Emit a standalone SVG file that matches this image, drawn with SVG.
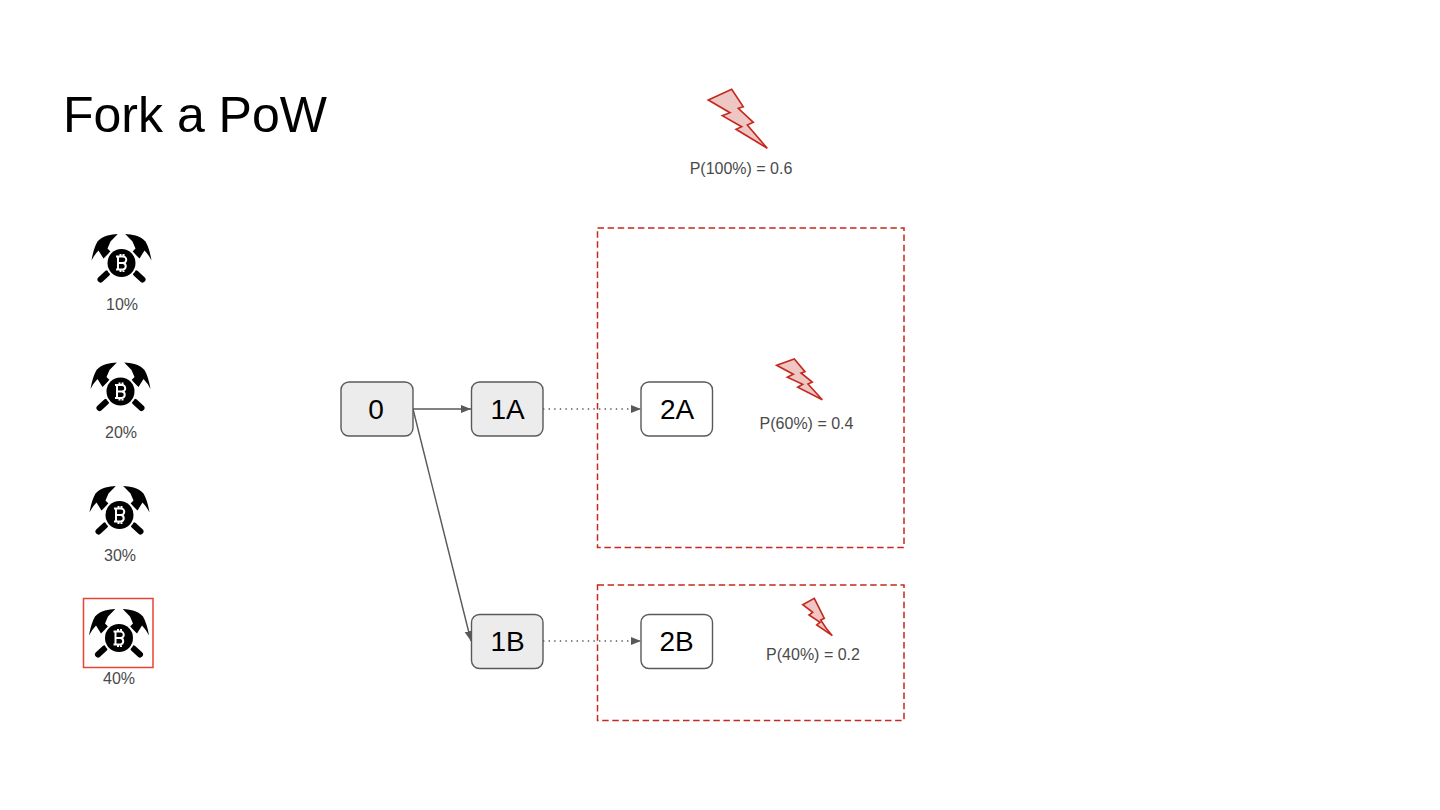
<svg xmlns="http://www.w3.org/2000/svg" width="1440" height="810" viewBox="0 0 1440 810">
<style>
text{font-family:"Liberation Sans",Arial,sans-serif}
.lbl{font-size:16px;fill:#4a4a4a;text-anchor:middle}
.ntxt{font-size:28px;fill:#000;text-anchor:middle}
.nbox{stroke:#595959;stroke-width:1.4}
.grey{fill:#ececec}
.white{fill:#fff}
.con{fill:none;stroke:#595959;stroke-width:1.4}
.dot{stroke-dasharray:1.4 4.2}
.zone{fill:none;stroke:#c5281c;stroke-width:1.5;stroke-dasharray:6.5 3.6}
.bolt{fill:#eec6c4;stroke:#c5281c;stroke-width:1.6;stroke-linejoin:miter}
</style>
<defs>
<marker id="ah" markerUnits="userSpaceOnUse" markerWidth="11" markerHeight="9" refX="10" refY="4" orient="auto"><path d="M0,0L10,4L0,8z" fill="#595959"/></marker>
<g id="miner">
<path d="M-3.700,-29Q-9,-29 -14,-27.500Q-20,-26 -24,-21.500Q-28,-14.500 -30,-2.500Q-27,-8.500 -23,-12.500L-18,-4.500L-11,-11.500L-14,-14.500L-11,-21.500z" fill="#000"/>
<path d="M3.700,-29Q9,-29 14,-27.500Q20,-26 24,-21.500Q28,-14.500 30,-2.500Q27,-8.500 23,-12.500L18,-4.500L11,-11.500L14,-14.500L11,-21.500z" fill="#000"/>
<path d="M-14.500,10.500L-21,16.500M14.500,10.500L21,16.500" stroke="#000" stroke-width="6" stroke-linecap="round"/>
<circle r="16" fill="#fff"/>
<circle r="14" fill="#000"/>
<path d="M-3.500,-6.500V6.500M-5.500,-6.500H1.500a3.200,3.200 0 0 1 0,6.500H-3.500M1.500,0a3.300,3.300 0 0 1 0,6.500H-5.500M-1,-6.500V-9M2,-6.500V-9M-1,6.500V9M2,6.500V9" fill="none" stroke="#fff" stroke-width="2"/>
</g>
</defs>
<rect width="1440" height="810" fill="#fff"/>
<text x="63" y="132" font-size="50" fill="#000">Fork a PoW</text>
<g id="miner10"><use href="#miner" transform="translate(121.500,263)"/><text class="lbl" x="122" y="310">10%</text></g>
<g id="miner20"><use href="#miner" transform="translate(120.500,391.500)"/><text class="lbl" x="121" y="438">20%</text></g>
<g id="miner30"><use href="#miner" transform="translate(119.500,515)"/><text class="lbl" x="120" y="561">30%</text></g>
<g id="miner40"><rect x="83.500" y="598.500" width="69.500" height="69" fill="none" stroke="#ea4335" stroke-width="1.500"/><use href="#miner" transform="translate(119,638)"/><text class="lbl" x="119" y="684">40%</text></g>
<g id="connectors">
<path class="con" marker-end="url(#ah)" d="M413,409H471"/>
<path class="con" marker-end="url(#ah)" d="M413,409L471,641"/>
<path class="con dot" marker-end="url(#ah)" d="M543,409H641"/>
<path class="con dot" marker-end="url(#ah)" d="M543,641H641"/>
</g>
<g id="zoneA"><rect class="zone" x="597.500" y="228" width="306.500" height="319.500"/></g>
<g id="zoneB"><rect class="zone" x="597.500" y="585" width="306.500" height="135.500"/></g>
<g id="n0"><rect class="nbox grey" x="341" y="382" width="72" height="54" rx="8"/><text class="ntxt" x="376" y="419">0</text></g>
<g id="n1A"><rect class="nbox grey" x="471.500" y="382" width="71.500" height="54" rx="8"/><text class="ntxt" x="507.500" y="419">1A</text></g>
<g id="n1B"><rect class="nbox grey" x="471.500" y="614.500" width="71.500" height="54" rx="8"/><text class="ntxt" x="507.500" y="651">1B</text></g>
<g id="n2A"><rect class="nbox white" x="641" y="382" width="71.500" height="54" rx="8"/><text class="ntxt" x="677" y="419">2A</text></g>
<g id="n2B"><rect class="nbox white" x="641" y="614.500" width="71.500" height="54" rx="8"/><text class="ntxt" x="676.500" y="651">2B</text></g>
<g id="bolt100"><polygon class="bolt" points="708.300,100 731.700,89.300 743.300,106.700 738.300,108.300 753.300,122.300 747.300,125 767.300,148.300 736,129.300 741.700,126.700 722.300,115.700 730,112.700"/><text class="lbl" x="741" y="174">P(100%) = 0.6</text></g>
<g id="bolt60"><polygon class="bolt" points="776.700,365.300 794.300,359 805,371.700 801,373 812.300,382 808,384 822.300,399.700 797.700,387.300 802.700,384.300 787.300,377.300 793.300,374.300"/><text class="lbl" x="806.500" y="429">P(60%) = 0.4</text></g>
<g id="bolt40"><polygon class="bolt" points="802.700,604.700 814.300,598.300 824.300,618.300 820.700,620 826,628 832.300,635.700 816.700,625 820,622.300 809,615 812.700,612.300"/><text class="lbl" x="813" y="660">P(40%) = 0.2</text></g>
</svg>
